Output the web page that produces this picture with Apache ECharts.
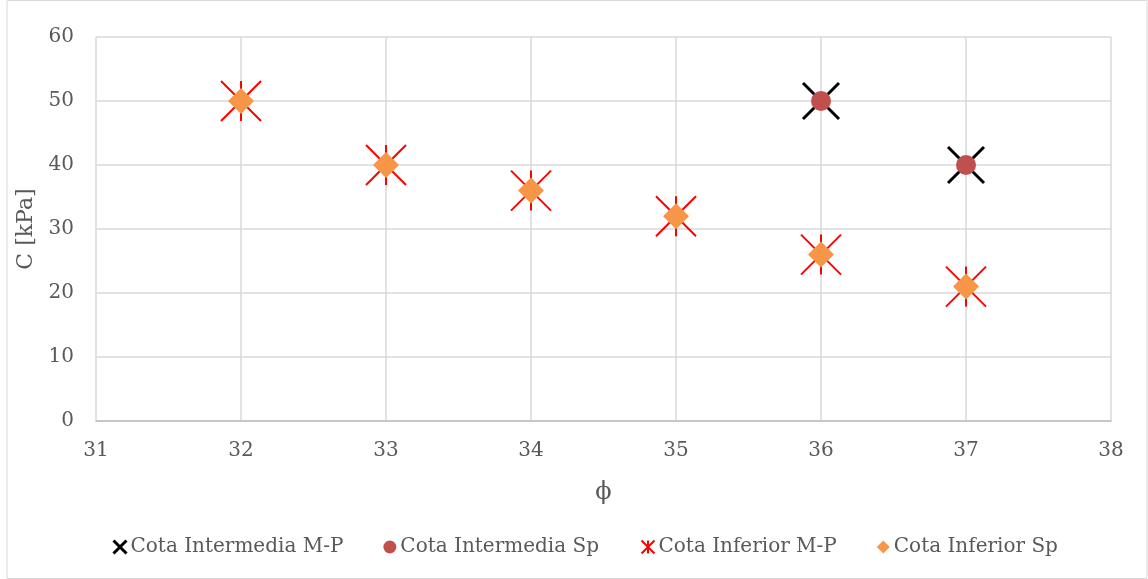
<!DOCTYPE html>
<html>
<head>
    <meta charset="utf-8">
    <title>C vs phi</title>
    <script src="https://cdn.jsdelivr.net/npm/echarts@6/dist/echarts.min.js"></script>
    <style>
        html, body { margin: 0; padding: 0; background: #fff; }
        #chart { width: 1148px; height: 579px; }
    </style>
</head>
<body>
<div id="chart"></div>
<script>
    // data
    var seriesNames = ['Cota Intermedia M-P', 'Cota Intermedia Sp', 'Cota Inferior M-P', 'Cota Inferior Sp'];
    var phiIntermedia = [36, 37];
    var cIntermedia = [50, 40];
    var phiInferior = [32, 33, 34, 35, 36, 37];
    var cInferior = [50, 40, 36, 32, 26, 21];

    function pairs(xs, ys) {
        var out = [];
        for (var i = 0; i < xs.length; i++) out.push([xs[i], ys[i]]);
        return out;
    }

    var font = 'DejaVu Serif';
    var grey = '#595959';
    var crossPath = 'path://M0,0L10,10M10,0L0,10';
    var starPath = 'path://M0,0L10,10M10,0L0,10M5,0L5,10';

    var myChart = echarts.init(document.getElementById('chart'));

    var option = {
        backgroundColor: '#fff',
        animation: false,
        grid: { left: 96, right: 37, top: 37, bottom: 158 },
        graphic: [{
            type: 'rect',
            shape: { x: 7, y: 0.5, width: 1140, height: 578 },
            style: { fill: 'none', stroke: '#d9d9d9', lineWidth: 1 },
            silent: true
        }],
        xAxis: {
            type: 'value',
            min: 31, max: 38, interval: 1,
            name: 'ϕ',
            nameLocation: 'middle',
            nameGap: 60,
            nameTextStyle: { fontFamily: font, fontSize: 24, color: grey },
            axisLine: { show: true, lineStyle: { color: '#bfbfbf', width: 1.5 } },
            axisTick: { show: false },
            axisLabel: { fontFamily: font, fontSize: 20, color: grey, margin: 20 },
            splitLine: { show: true, lineStyle: { color: '#d9d9d9', width: 1.5 } }
        },
        yAxis: {
            type: 'value',
            min: 0, max: 60, interval: 10,
            name: 'C [kPa]',
            nameLocation: 'middle',
            nameGap: 56,
            nameTextStyle: { fontFamily: font, fontSize: 22, color: grey },
            axisLine: { show: false },
            axisTick: { show: false },
            axisLabel: { fontFamily: font, fontSize: 20, color: grey, margin: 22 },
            splitLine: { show: true, lineStyle: { color: '#d9d9d9', width: 1.5 } }
        },
        legend: {
            bottom: 17,
            left: 106,
            itemGap: 40,
            itemWidth: 13,
            itemHeight: 13,
            textStyle: { fontFamily: font, fontSize: 20, color: grey, padding: [0, 0, 0, -1] },
            data: [
                { name: seriesNames[0], icon: crossPath, itemStyle: { color: 'none', borderColor: '#000', borderWidth: 3, opacity: 1 } },
                { name: seriesNames[1], icon: 'circle', itemStyle: { opacity: 1 } },
                { name: seriesNames[2], icon: starPath, itemStyle: { color: 'none', borderColor: '#ff0000', borderWidth: 2, opacity: 1 } },
                { name: seriesNames[3], icon: 'diamond', itemStyle: { opacity: 1 } }
            ]
        },
        series: [
            {
                name: seriesNames[0],
                type: 'scatter',
                symbol: crossPath,
                symbolSize: 36,
                itemStyle: { color: 'none', borderColor: '#000000', borderWidth: 3, opacity: 1 },
                data: pairs(phiIntermedia, cIntermedia)
            },
            {
                name: seriesNames[1],
                type: 'scatter',
                symbol: 'circle',
                symbolSize: 20,
                itemStyle: { color: '#c0504d', opacity: 1 },
                data: pairs(phiIntermedia, cIntermedia)
            },
            {
                name: seriesNames[2],
                type: 'scatter',
                symbol: starPath,
                symbolSize: 40,
                itemStyle: { color: 'none', borderColor: '#ff0000', borderWidth: 2, opacity: 1 },
                data: pairs(phiInferior, cInferior)
            },
            {
                name: seriesNames[3],
                type: 'scatter',
                symbol: 'diamond',
                symbolSize: [26, 26],
                itemStyle: { color: '#f79646', opacity: 1 },
                data: pairs(phiInferior, cInferior)
            }
        ]
    };

    myChart.setOption(option);
</script>
</body>
</html>
